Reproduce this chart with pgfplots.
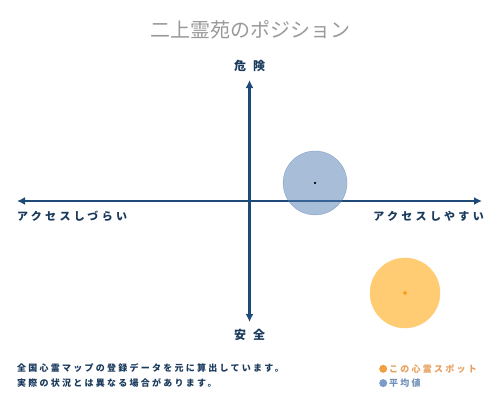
\documentclass[border=0pt]{standalone}
\usepackage{fontspec}
\setmainfont{Noto Sans CJK JP}
\newfontfamily\lsfont[LetterSpace=30]{Noto Sans CJK JP}
\newfontfamily\ftfont[LetterSpace=25]{Noto Sans CJK JP}
\usepackage{pgfplots}
\pgfplotsset{compat=1.18}
\usetikzlibrary{arrows.meta}
\definecolor{navy}{HTML}{1E4A78}
\definecolor{labnavy}{HTML}{1A3A5C}
\definecolor{bluec}{HTML}{517BB1}
\definecolor{orangec}{HTML}{FFCC73}
\definecolor{orangedot}{HTML}{F5A020}
\definecolor{legor}{HTML}{F0A040}
\definecolor{legortext}{HTML}{E8A060}
\definecolor{legbl}{HTML}{7A9CC6}
\definecolor{legbltext}{HTML}{7090B8}
\definecolor{titlegray}{HTML}{999999}
\begin{document}
\begin{tikzpicture}[x=1pt,y=1pt]
\path[use as bounding box] (0,0) rectangle (500,400);
\begin{axis}[
  at={(17pt,78pt)}, anchor=south west,
  scale only axis, width=465pt, height=242pt,
  xmin=-1, xmax=1, ymin=-1, ymax=1,
  axis lines=middle, ticks=none,
  axis line style={navy, line width=2.2pt, {Latex[length=8pt,width=8pt]}-{Latex[length=8pt,width=8pt]}},
  clip=false,
  legend style={at={(0.7785,-0.165)}, anchor=north west, draw=none, fill=none,
    font=\ftfont\fontsize{9}{11}\selectfont\bfseries, inner sep=0pt, row sep=1pt},
  legend cell align=left,
]
\addplot[only marks, draw=none, mark=*, mark size=35pt, mark options={fill=orangec, draw=orangec},
  legend image code/.code={\fill[legor] (0pt,0pt) circle (4pt);}]
  coordinates {(0.669,-0.760)};
\addlegendentry{\textcolor{legortext}{この心霊スポット}}
\addplot[only marks, draw=none, mark=*, mark size=32pt, mark options={fill=bluec, draw=bluec, opacity=0.5},
  legend image code/.code={\fill[legbl] (0pt,0pt) circle (4pt);}]
  coordinates {(0.282,0.149)};
\addlegendentry{\textcolor{legbltext}{平均値}}
\addplot[forget plot, only marks, draw=none, mark=*, mark size=1.8pt, mark options={fill=orangedot, draw=orangedot}]
  coordinates {(0.669,-0.760)};
\addplot[forget plot, only marks, draw=none, mark=*, mark size=0.9pt, mark options={fill=black, draw=black}]
  coordinates {(0.282,0.149)};
\end{axis}
\node[titlegray, font=\fontsize{20}{24}\selectfont] at (250,370) {二上霊苑のポジション};
\node[labnavy, font=\fontsize{12}{14}\selectfont\bfseries] at (249.5,334) {危\hspace{7pt}険};
\node[labnavy, font=\fontsize{12}{14}\selectfont\bfseries] at (249.5,65) {安\hspace{7pt}全};
\node[labnavy, anchor=west, inner sep=0pt, font=\lsfont\fontsize{11}{13}\selectfont\bfseries] at (17,184) {アクセスしづらい};
\node[labnavy, anchor=east, inner sep=0pt, font=\lsfont\fontsize{11}{13}\selectfont\bfseries] at (484,184) {アクセスしやすい};
\node[labnavy, anchor=west, inner sep=0pt, font=\ftfont\fontsize{9}{11}\selectfont\bfseries] at (17,32) {全国心霊マップの登録データを元に算出しています。};
\node[labnavy, anchor=west, inner sep=0pt, font=\ftfont\fontsize{9}{11}\selectfont\bfseries] at (17,17) {実際の状況とは異なる場合があります。};
\end{tikzpicture}
\end{document}
